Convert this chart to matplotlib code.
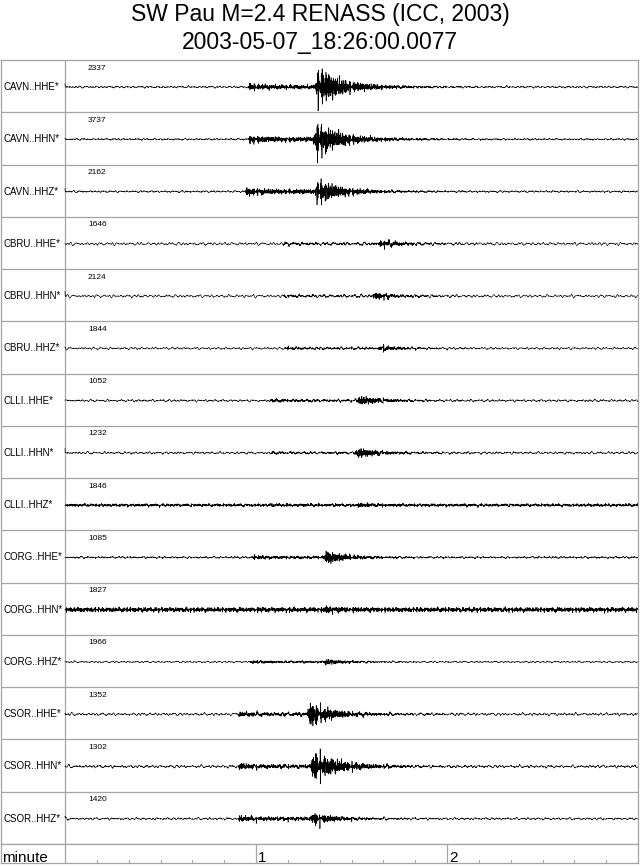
import numpy as np
import matplotlib
matplotlib.use("Agg")
import matplotlib.pyplot as plt

# ---------------- data ----------------
title_line1 = "SW Pau M=2.4 RENASS (ICC, 2003)"
title_line2 = "2003-05-07_18:26:00.0077"
stations = ["CAVN"] * 3 + ["CBRU"] * 3 + ["CLLI"] * 3 + ["CORG"] * 3 + ["CSOR"] * 3
channels = ["HHE", "HHN", "HHZ"] * 5
max_counts = [2337, 3737, 2162, 1646, 2124, 1844, 1052, 1232, 1846,
              1085, 1827, 1966, 1352, 1302, 1420]
# arrival times (seconds after trace start) and visible amplitudes (in pixel-like units)
p_time_s = [57.5, 57.5, 56.5, 68.5, 68.5, 69.0, 64.4, 64.4, 64.4,
            58.7, 58.7, 58.0, 54.3, 54.3, 54.3]
s_time_s = [78.5, 78.0, 78.3, 98.3, 96.4, 98.3, 91.5, 91.0, 91.0,
            81.0, 81.0, 81.0, 76.0, 77.0, 77.0]
p_amp = [3.5, 4.0, 4.0, 1.2, 1.0, 1.2, 1.5, 1.0, 0.8, 2.0, 1.0, 1.5, 2.5, 3.0, 3.0]
s_amp = [19, 17, 11, 4, 3.5, 2.5, 4, 5, 2, 6, 3, 2.5, 12, 14, 5]
s_decay_s = [6, 6, 6, 4, 4, 4, 6, 5, 4, 5, 4, 4, 5, 7, 5]
noise_lf_amp = [0.8, 0.7, 0.8, 1.3, 1.3, 1.0, 1.0, 1.0, 0.8, 0.8, 0.9, 0.7, 1.2, 1.2, 1.0]
noise_hf_amp = [0.25, 0.25, 0.25, 0.2, 0.2, 0.2, 0.25, 0.25, 0.9, 0.3, 1.7, 0.2, 0.25, 0.3, 0.25]
start_spike = [3, 1, 3, 0, 4, 0, 0, 4, 0, 0, 0, 0, 1, 0, 1]
minute_ticks = [1, 2]
minor_tick_s = [10, 20, 30, 40, 50, 70, 80, 90, 100, 110, 130, 140, 150, 160, 170]
duration_min = 3.0

# ---------------- layout helpers ----------------
W, H = 640, 866
def box(x0, y0, x1, y1):
    return [x0 / W, 1 - y1 / H, (x1 - x0) / W, (y1 - y0) / H]

PX_PER_MIN = 191.0
x_left = (1 - 65) / PX_PER_MIN
n = len(stations)
panel_h = 784.0 / n
grey = "#a4a4a4"
font = "Liberation Sans"

fig = plt.figure(figsize=(W / 100, H / 100), dpi=100)

fig.text(0.5, 1 - 15 / H, title_line1, ha="center", va="center", fontsize=16.5, family=font)
fig.text(0.5, 1 - 43 / H, title_line2, ha="center", va="center", fontsize=16.5, family=font)

ax = fig.add_axes(box(1, 60, 638, 844))
ax.set_xlim(x_left, duration_min)
ax.set_ylim(784, 0)
ax.set_xticks([])
ax.set_yticks([])
for s in ax.spines.values():
    s.set_color(grey)
    s.set_linewidth(0.9)
ax.axvline(0, color=grey, lw=0.9)
for i in range(1, n):
    ax.axhline(i * panel_h, color=grey, lw=0.9)

dt = 0.02
t = np.arange(0, duration_min * 60, dt)
lf_freqs = [0.31, 0.41, 0.53, 0.62, 0.77, 0.91, 1.13]
hf_freqs = [2.9, 3.7, 4.6, 5.5, 6.3, 7.4, 8.6, 9.7]
ev_freqs = [1.6, 2.2, 2.8, 3.5, 4.3, 5.0, 5.8, 6.7, 7.6, 8.8, 10.1]

def carrier(freqs, i, off):
    out = np.zeros_like(t)
    for k, f in enumerate(freqs):
        out += np.sin(2 * np.pi * f * t + off + k * 2.39996 + i * k * 0.7 + i * 1.9)
    return out / (2.0 * out.std())

def envelope(i):
    e = np.zeros_like(t)
    tp, ts = p_time_s[i], s_time_s[i]
    m = t >= tp
    d = t[m] - tp
    e[m] += p_amp[i] * (0.45 + 0.55 * np.exp(-d / 4.0)) * np.minimum(d / 0.5, 1)
    m = t >= ts
    d = t[m] - ts
    e[m] = e[m] * np.exp(-d / 10.0) + s_amp[i] * np.minimum(d / 1.2, 1) * (
        0.75 * np.exp(-d / s_decay_s[i]) + 0.25 * np.exp(-d / 15.0))
    return e

for i in range(n):
    base = i * panel_h + 27.0
    sig = (noise_lf_amp[i] * carrier(lf_freqs, i, 0.3)
           + noise_hf_amp[i] * carrier(hf_freqs, i, 1.1)
           + envelope(i) * carrier(ev_freqs, i, 2.2))
    sig[:2] += start_spike[i]
    ax.plot(t / 60.0, base - sig, color="black", lw=0.45)
    ax.text(x_left + 2 / PX_PER_MIN, base, f"{stations[i]}..{channels[i]}*",
            ha="left", va="center", fontsize=7, family=font)
    ax.text(23 / PX_PER_MIN, i * panel_h + 8, str(max_counts[i]),
            ha="left", va="center", fontsize=6, family=font)

# bottom time axis
bx = fig.add_axes(box(1, 844, 638, 863))
bx.set_xlim(x_left, duration_min)
bx.set_ylim(0, 19)
bx.set_xticks([])
bx.set_yticks([])
for s in bx.spines.values():
    s.set_color(grey)
    s.set_linewidth(0.9)
bx.axvline(0, color=grey, lw=0.9)
for m in minute_ticks:
    bx.axvline(m, color=grey, lw=0.9)
    bx.text(m + 2 / PX_PER_MIN, 1.5, str(m), ha="left", va="baseline",
            fontsize=11, family=font)
for s_ in minor_tick_s:
    bx.plot([s_ / 60.0, s_ / 60.0], [0, 3.5], color=grey, lw=0.8)
bx.text(x_left + 1 / PX_PER_MIN, 1.5, "minute", ha="left", va="baseline",
        fontsize=11, family=font)

fig.savefig("out.png", dpi=100)
